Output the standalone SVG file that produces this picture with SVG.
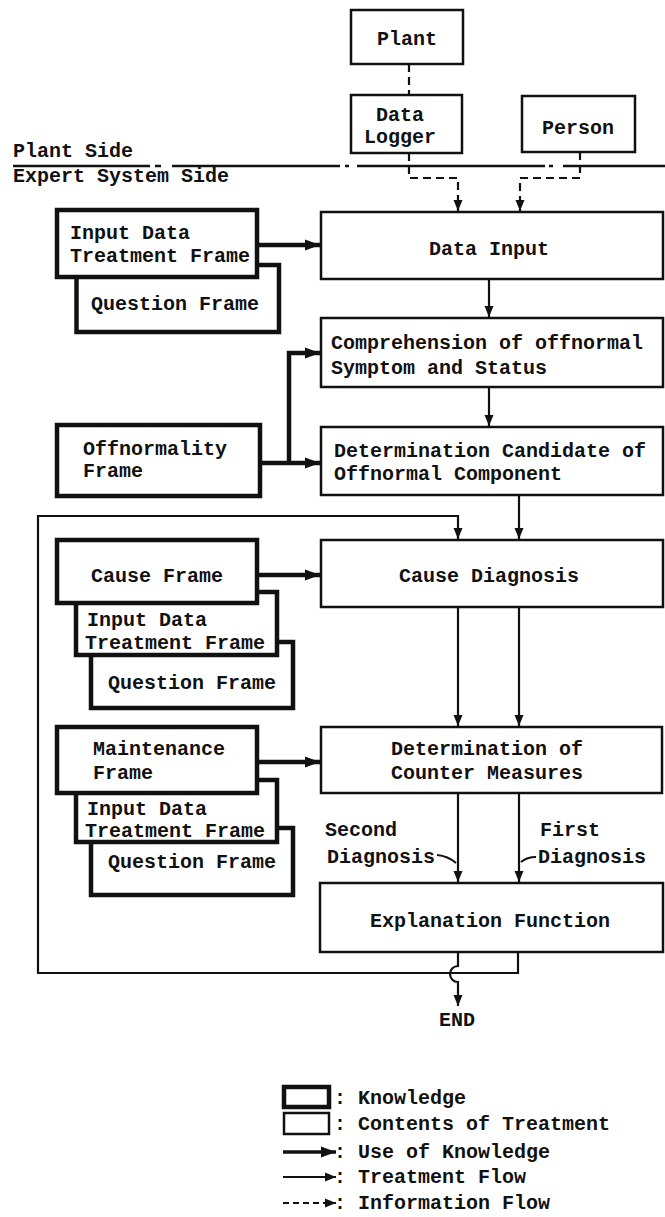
<svg xmlns="http://www.w3.org/2000/svg" width="665" height="1217" viewBox="0 0 665 1217">
<style>
.t{font-family:"Liberation Mono","DejaVu Sans Mono",monospace;font-size:20px;font-weight:bold;fill:#111}
.m{text-anchor:middle}
.kb{fill:#fff;stroke:#111;stroke-width:4.5}
.pb{fill:#fff;stroke:#111;stroke-width:2.5}
.fl{fill:none;stroke:#111;stroke-width:2.2}
.uk{fill:none;stroke:#111;stroke-width:4.5}
.inf{fill:none;stroke:#111;stroke-width:2.2;stroke-dasharray:8 5}
.side{fill:none;stroke:#111;stroke-width:2.5}
</style>
<defs>
<marker id="aThin" markerUnits="userSpaceOnUse" markerWidth="12" markerHeight="10" refX="11" refY="5" orient="auto"><path d="M0,0.5 L11,5 L0,9.5 z" fill="#111"/></marker>
<marker id="aThick" markerUnits="userSpaceOnUse" markerWidth="16" markerHeight="12" refX="15" refY="6" orient="auto"><path d="M0,0.5 L15,6 L0,11.5 z" fill="#111"/></marker>
</defs>
<rect x="0" y="0" width="665" height="1217" fill="#fff"/>

<!-- plant / expert system boundary -->
<g id="boundary">
<path class="side" d="M13 166H150M155 166H161M172 166H340M345 166H349M357 166H545M549 166H553M563 166H665"/>
<text class="t" x="13" y="157">Plant Side</text>
<text class="t" x="13" y="182">Expert System Side</text>
</g>

<!-- connectors -->
<g id="connectors">
<!-- information flow -->
<path class="inf" d="M409 64V95"/>
<path class="inf" d="M409 153V178H458V211" marker-end="url(#aThin)"/>
<path class="inf" d="M580 152V178H520V211" marker-end="url(#aThin)"/>
<!-- use of knowledge -->
<path class="uk" d="M257 245H320" marker-end="url(#aThick)"/>
<path class="uk" d="M260 463H320" marker-end="url(#aThick)"/>
<path class="uk" d="M289 463V353H320" marker-end="url(#aThick)"/>
<path class="uk" d="M257 575H320" marker-end="url(#aThick)"/>
<path class="uk" d="M257 762H320" marker-end="url(#aThick)"/>
<!-- treatment flow -->
<path class="fl" d="M489 279V317" marker-end="url(#aThin)"/>
<path class="fl" d="M489 387V426" marker-end="url(#aThin)"/>
<path class="fl" d="M519 495V539" marker-end="url(#aThin)"/>
<path class="fl" d="M518 952V973H38V516H458V539" marker-end="url(#aThin)"/>
<path class="fl" d="M458 607V726" marker-end="url(#aThin)"/>
<path class="fl" d="M519 607V726" marker-end="url(#aThin)"/>
<path class="fl" d="M458 793V882" marker-end="url(#aThin)"/>
<path class="fl" d="M519 793V882" marker-end="url(#aThin)"/>
<path class="fl" d="M458 952V966A8 8 0 0 0 458 982V1006" marker-end="url(#aThin)"/>
<!-- diagnosis leaders -->
<path class="fl" d="M437 855Q448 856 456 863"/>
<path class="fl" d="M521 862Q527 857 536 857"/>
</g>

<g id="plant">
<rect class="pb" x="351" y="10" width="112" height="54"/>
<text class="t m" x="407" y="45">Plant</text>
</g>
<g id="data-logger">
<rect class="pb" x="351" y="95" width="111" height="58"/>
<text class="t m" x="400" y="121">Data</text>
<text class="t m" x="400" y="143">Logger</text>
</g>
<g id="person">
<rect class="pb" x="522" y="96" width="113" height="56"/>
<text class="t m" x="578" y="134">Person</text>
</g>

<g id="input-frames-1">
<rect class="kb" x="76.5" y="265" width="202.5" height="67"/>
<text class="t m" x="175" y="310">Question Frame</text>
<rect class="kb" x="57" y="210" width="200" height="67"/>
<text class="t" x="70" y="239">Input Data</text>
<text class="t" x="70" y="262">Treatment Frame</text>
</g>

<g id="data-input">
<rect class="pb" x="321" y="212" width="342" height="67"/>
<text class="t m" x="489" y="255">Data Input</text>
</g>

<g id="comprehension">
<rect class="pb" x="321" y="318" width="342" height="69"/>
<text class="t" x="331" y="349">Comprehension of offnormal</text>
<text class="t" x="331" y="374">Symptom and Status</text>
</g>

<g id="offnormality-frame">
<rect class="kb" x="57" y="425" width="203" height="71"/>
<text class="t" x="83" y="455">Offnormality</text>
<text class="t" x="83" y="477">Frame</text>
</g>

<g id="candidate">
<rect class="pb" x="321" y="427" width="342" height="68"/>
<text class="t" x="334" y="457">Determination Candidate of</text>
<text class="t" x="334" y="480">Offnormal Component</text>
</g>

<g id="cause-frames">
<rect class="kb" x="91" y="642" width="202" height="66"/>
<text class="t m" x="192" y="689">Question Frame</text>
<rect class="kb" x="76" y="592" width="201" height="63"/>
<text class="t" x="87" y="626">Input Data</text>
<text class="t" x="85" y="649">Treatment Frame</text>
<rect class="kb" x="57" y="540" width="200" height="63"/>
<text class="t m" x="157" y="582">Cause Frame</text>
</g>

<g id="cause-diagnosis">
<rect class="pb" x="321" y="540" width="342" height="67"/>
<text class="t m" x="489" y="582">Cause Diagnosis</text>
</g>

<g id="maintenance-frames">
<rect class="kb" x="91" y="828" width="202" height="67"/>
<text class="t m" x="192" y="868">Question Frame</text>
<rect class="kb" x="76" y="780" width="201" height="62"/>
<text class="t" x="87" y="815">Input Data</text>
<text class="t" x="85" y="837">Treatment Frame</text>
<rect class="kb" x="57" y="727" width="200" height="66"/>
<text class="t" x="93" y="755">Maintenance</text>
<text class="t" x="93" y="779">Frame</text>
</g>

<g id="counter-measures">
<rect class="pb" x="321" y="727" width="341" height="66"/>
<text class="t m" x="487" y="755">Determination of</text>
<text class="t m" x="487" y="779">Counter Measures</text>
</g>

<g id="diagnosis-labels">
<text class="t" x="325" y="836">Second</text>
<text class="t" x="327" y="863">Diagnosis</text>
<text class="t" x="540" y="836">First</text>
<text class="t" x="538" y="863">Diagnosis</text>
</g>

<g id="explanation">
<rect class="pb" x="320" y="883" width="343" height="69"/>
<text class="t m" x="490" y="927">Explanation Function</text>
</g>

<g id="end">
<text class="t m" x="457" y="1026">END</text>
</g>

<g id="legend">
<rect class="kb" x="284" y="1087" width="45" height="20"/>
<text class="t" x="334" y="1104">: Knowledge</text>
<rect class="pb" x="284" y="1113" width="45" height="21"/>
<text class="t" x="334" y="1130">: Contents of Treatment</text>
<path class="uk" d="M283 1152H336" marker-end="url(#aThick)" style="stroke-width:3.5"/>
<text class="t" x="334" y="1158">: Use of Knowledge</text>
<path class="fl" d="M283 1177H336" marker-end="url(#aThin)"/>
<text class="t" x="334" y="1183">: Treatment Flow</text>
<path class="inf" d="M283 1203H336" marker-end="url(#aThin)" style="stroke-dasharray:6 4"/>
<text class="t" x="334" y="1209">: Information Flow</text>
</g>
</svg>
